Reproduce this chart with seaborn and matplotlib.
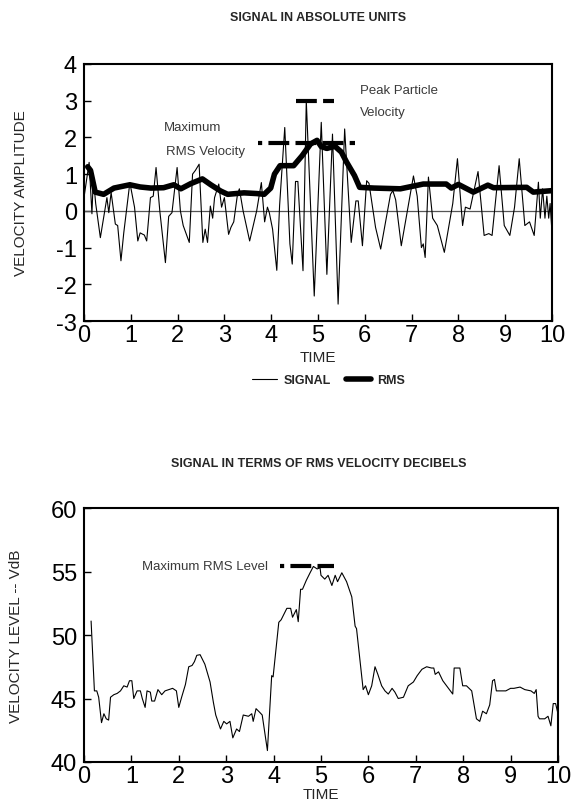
import numpy as np
import pandas as pd
import matplotlib
matplotlib.use("Agg")
import matplotlib.pyplot as plt
import seaborn as sns

# ---------------------------------------------------------------
# data
sig_t = [0.00, 0.11, 0.17, 0.20, 0.25, 0.35, 0.49, 0.53, 0.58, 0.67, 0.72, 0.79, 0.85, 0.95, 0.98,
         1.08, 1.15, 1.20, 1.29, 1.34, 1.42, 1.48, 1.54, 1.62, 1.74, 1.81, 1.88, 1.99, 2.06, 2.12,
         2.25, 2.32, 2.38, 2.46, 2.54, 2.59, 2.64, 2.70, 2.75, 2.79, 2.88, 2.94, 3.00, 3.09, 3.14,
         3.20, 3.28, 3.32, 3.40, 3.54, 3.69, 3.79, 3.86, 3.92, 3.96, 4.03, 4.12, 4.18, 4.29, 4.40,
         4.45, 4.52, 4.57, 4.68, 4.75, 4.92, 5.07, 5.19, 5.31, 5.43, 5.57, 5.71, 5.81, 5.86, 5.95,
         6.04, 6.09, 6.23, 6.34, 6.55, 6.60, 6.66, 6.78, 7.04, 7.12, 7.21, 7.25, 7.29, 7.36, 7.45,
         7.55, 7.70, 7.88, 7.98, 8.09, 8.15, 8.25, 8.42, 8.55, 8.65, 8.72, 8.87, 8.98, 9.10, 9.20,
         9.30, 9.42, 9.52, 9.62, 9.71, 9.75, 9.80, 9.85, 9.89, 9.93, 9.96, 10.0]
sig_v = [0.36, 1.32, -0.08, 0.90, 0.20, -0.73, 0.36, -0.05, 0.50, -0.36, -0.40, -1.36, -0.60, 0.45, 0.77,
         0.10, -0.82, -0.60, -0.66, -0.82, 0.36, 0.40, 1.18, 0.00, -1.41, -0.15, -0.05, 1.18, 0.00, -0.40,
         -0.86, 1.00, 1.10, 1.27, -0.86, -0.50, -0.86, 0.13, -0.20, 0.36, 0.73, 0.10, 0.36, -0.64, -0.45,
         -0.30, 0.45, 0.60, 0.00, -0.82, 0.00, 0.77, -0.30, 0.10, -0.05, -0.50, -1.62, 0.15, 2.27, -0.90,
         -1.45, 0.80, 0.80, -1.63, 3.00, -2.32, 2.41, -1.73, 2.09, -2.54, 2.23, -0.86, 0.27, 0.27, -0.95,
         0.82, 0.75, -0.45, -1.04, 0.45, 0.55, 0.30, -0.95, 0.95, 0.40, -1.00, -0.90, -1.27, 0.92, -0.20,
         -0.40, -1.13, 0.20, 1.42, -0.40, 0.10, 0.05, 1.07, -0.67, -0.62, -0.67, 1.23, -0.40, -0.67, 0.10,
         1.42, -0.40, -0.30, -0.67, 0.78, -0.20, 0.60, -0.20, 0.40, -0.20, 0.20, -0.58]

rms_t = [0.08, 0.14, 0.24, 0.42, 0.64, 0.98, 1.20, 1.43, 1.70, 1.92, 2.07, 2.28, 2.53, 2.71, 2.92,
         3.07, 3.42, 3.70, 3.85, 3.99, 4.07, 4.19, 4.48, 4.66, 4.84, 4.98, 5.07, 5.19, 5.36, 5.50,
         5.61, 5.78, 5.89, 6.20, 6.76, 7.25, 7.74, 7.85, 8.00, 8.32, 8.63, 8.75, 9.46, 9.60, 10.0]
rms_v = [1.20, 1.10, 0.51, 0.45, 0.62, 0.71, 0.65, 0.62, 0.63, 0.71, 0.60, 0.74, 0.87, 0.71, 0.54,
         0.45, 0.49, 0.47, 0.45, 0.62, 1.00, 1.23, 1.23, 1.50, 1.82, 1.92, 1.75, 1.70, 1.76, 1.60,
         1.33, 0.96, 0.64, 0.62, 0.60, 0.73, 0.73, 0.62, 0.72, 0.51, 0.70, 0.63, 0.64, 0.51, 0.55]

db_t = [0.15, 0.22, 0.27, 0.31, 0.37, 0.42, 0.47, 0.52, 0.56, 0.63, 0.70, 0.77, 0.84, 0.91, 0.96,
        1.01, 1.05, 1.12, 1.19, 1.23, 1.29, 1.33, 1.40, 1.43, 1.49, 1.56, 1.64, 1.71, 1.79, 1.87,
        1.95, 2.00, 2.06, 2.14, 2.21, 2.28, 2.33, 2.38, 2.45, 2.55, 2.66, 2.73, 2.78, 2.88, 2.95,
        3.01, 3.08, 3.14, 3.22, 3.28, 3.36, 3.47, 3.54, 3.57, 3.63, 3.71, 3.76, 3.87, 3.96, 3.99,
        4.11, 4.16, 4.28, 4.36, 4.40, 4.48, 4.52, 4.57, 4.61, 4.69, 4.77, 4.84, 4.92, 4.98, 5.00,
        5.08, 5.15, 5.23, 5.30, 5.35, 5.44, 5.54, 5.65, 5.72, 5.75, 5.82, 5.89, 5.94, 6.00, 6.07,
        6.14, 6.20, 6.28, 6.35, 6.42, 6.50, 6.56, 6.63, 6.74, 6.84, 6.95, 7.03, 7.13, 7.23, 7.33,
        7.38, 7.41, 7.48, 7.57, 7.67, 7.78, 7.81, 7.93, 7.99, 8.07, 8.18, 8.28, 8.35, 8.41, 8.49,
        8.56, 8.62, 8.66, 8.70, 8.80, 8.90, 9.00, 9.07, 9.20, 9.30, 9.43, 9.50, 9.54, 9.58, 9.61,
        9.72, 9.79, 9.85, 9.90, 9.95, 10.0]
db_v = [51.1, 45.6, 45.6, 45.1, 43.1, 43.8, 43.4, 43.3, 45.1, 45.3, 45.4, 45.6, 46.0, 45.9, 46.4,
        46.4, 45.0, 45.6, 45.6, 45.0, 44.3, 45.6, 45.5, 44.8, 44.8, 45.7, 45.3, 45.6, 45.7, 45.8,
        45.6, 44.3, 45.1, 46.1, 47.5, 47.6, 47.9, 48.4, 48.45, 47.7, 46.3, 44.7, 43.7, 42.6, 43.2,
        43.0, 43.2, 41.9, 42.6, 42.4, 43.7, 43.6, 43.8, 43.2, 44.2, 43.9, 43.7, 40.9, 46.8, 46.7,
        51.0, 51.2, 52.1, 52.1, 51.4, 52.0, 51.05, 53.6, 53.6, 54.3, 54.9, 55.4, 55.2, 55.3, 54.7,
        54.4, 54.7, 53.9, 54.7, 54.2, 54.9, 54.2, 53.0, 50.7, 50.5, 48.1, 45.7, 46.0, 45.3, 46.0,
        47.5, 46.9, 46.0, 45.6, 45.35, 45.8, 45.5, 45.0, 45.1, 46.0, 46.3, 46.8, 47.3, 47.5, 47.4,
        47.4, 46.9, 47.1, 46.4, 45.9, 45.35, 47.4, 47.4, 46.0, 46.0, 45.6, 43.4, 43.2, 44.0, 43.8,
        44.5, 46.4, 46.5, 45.6, 45.6, 45.6, 45.8, 45.8, 45.9, 45.7, 45.6, 45.4, 45.7, 43.6, 43.4,
        43.4, 43.6, 42.85, 44.6, 44.6, 43.8]

# annotation levels
peak_level, peak_span = 3.0, (4.54, 5.35)
max_rms_level, max_rms_span = 1.85, (3.72, 5.79)
max_db_level, max_db_span = 55.45, (4.13, 5.28)

x_ticks = list(range(0, 11))
top_y_ticks = list(range(-3, 5))
bot_y_ticks = [40, 45, 50, 55, 60]

# ---------------------------------------------------------------
sns.set_theme(style="ticks")
plt.rcParams['font.family'] = ['Liberation Sans', 'DejaVu Sans']
plt.rcParams['xtick.direction'] = 'in'
plt.rcParams['ytick.direction'] = 'in'
plt.rcParams['axes.unicode_minus'] = False

fig = plt.figure(figsize=(5.76, 8.04), dpi=100)
ax1 = fig.add_axes([0.1458, 0.5995, 0.8125, 0.3197])
ax2 = fig.add_axes([0.1458, 0.0510, 0.8229, 0.3159])

sig_df = pd.DataFrame({'TIME': sig_t, 'v': sig_v})
rms_df = pd.DataFrame({'TIME': rms_t, 'v': rms_v})
db_df = pd.DataFrame({'TIME': db_t, 'v': db_v})

ax1.axhline(0, color='#555555', lw=0.9, zorder=1)
sns.lineplot(data=sig_df, x='TIME', y='v', ax=ax1, color='black', lw=0.8,
             estimator=None, sort=False, label='SIGNAL')
sns.lineplot(data=rms_df, x='TIME', y='v', ax=ax1, color='black', lw=4.0,
             estimator=None, sort=False, label='RMS')

dash = (0, (5, 1.5))
dash_off = (4, (5, 1.5))
ax1.hlines(peak_level, *peak_span, colors='black', lw=3, linestyles=[dash])
ax1.hlines(max_rms_level, *max_rms_span, colors='black', lw=3, linestyles=[dash_off])
txt_col = '#3a3a3a'
ax1.text(5.9, 3.3, 'Peak Particle', fontsize=9.5, color=txt_col, va='center')
ax1.text(5.9, 2.68, 'Velocity', fontsize=9.5, color=txt_col, va='center')
ax1.text(1.7, 2.28, 'Maximum', fontsize=9.5, color=txt_col, va='center')
ax1.text(1.75, 1.63, 'RMS Velocity', fontsize=9.5, color=txt_col, va='center')

sns.lineplot(data=db_df, x='TIME', y='v', ax=ax2, color='black', lw=0.8,
             estimator=None, sort=False, legend=False)
ax2.hlines(max_db_level, *max_db_span, colors='black', lw=3, linestyles=[dash_off])
ax2.text(3.89, max_db_level, 'Maximum RMS Level', fontsize=9.5, color=txt_col,
         va='center', ha='right')

for ax, yt, ylab, xpad in [(ax1, top_y_ticks, 'VELOCITY AMPLITUDE', 3),
                           (ax2, bot_y_ticks, 'VELOCITY LEVEL -- VdB', 0)]:
    ax.set_xlim(0, 10)
    ax.set_ylim(yt[0], yt[-1])
    ax.set_xticks(x_ticks)
    ax.set_yticks(yt)
    ax.tick_params(labelsize=17, length=5, width=1, pad=2, colors='black')
    ax.tick_params(axis='y', pad=5)
    ax.set_xlabel('TIME', fontsize=11, labelpad=xpad)
    ax.set_ylabel(ylab, fontsize=11, labelpad=20)
    for s in ax.spines.values():
        s.set_linewidth(1.5)
        s.set_color('black')

ax1.legend(loc='center', bbox_to_anchor=(0.523, -0.23), ncol=2, frameon=False,
           prop={'weight': 'bold', 'size': 9}, handlelength=2.0, columnspacing=1.2,
           handletextpad=0.5)

fig.text(0.552, 1 - 18 / 804, 'SIGNAL IN ABSOLUTE UNITS', ha='center', va='center',
         fontsize=9, fontweight='bold')
fig.text(0.553, 1 - 464 / 804, 'SIGNAL IN TERMS OF RMS VELOCITY DECIBELS', ha='center',
         va='center', fontsize=9, fontweight='bold')

fig.savefig('out.png', dpi=100)
